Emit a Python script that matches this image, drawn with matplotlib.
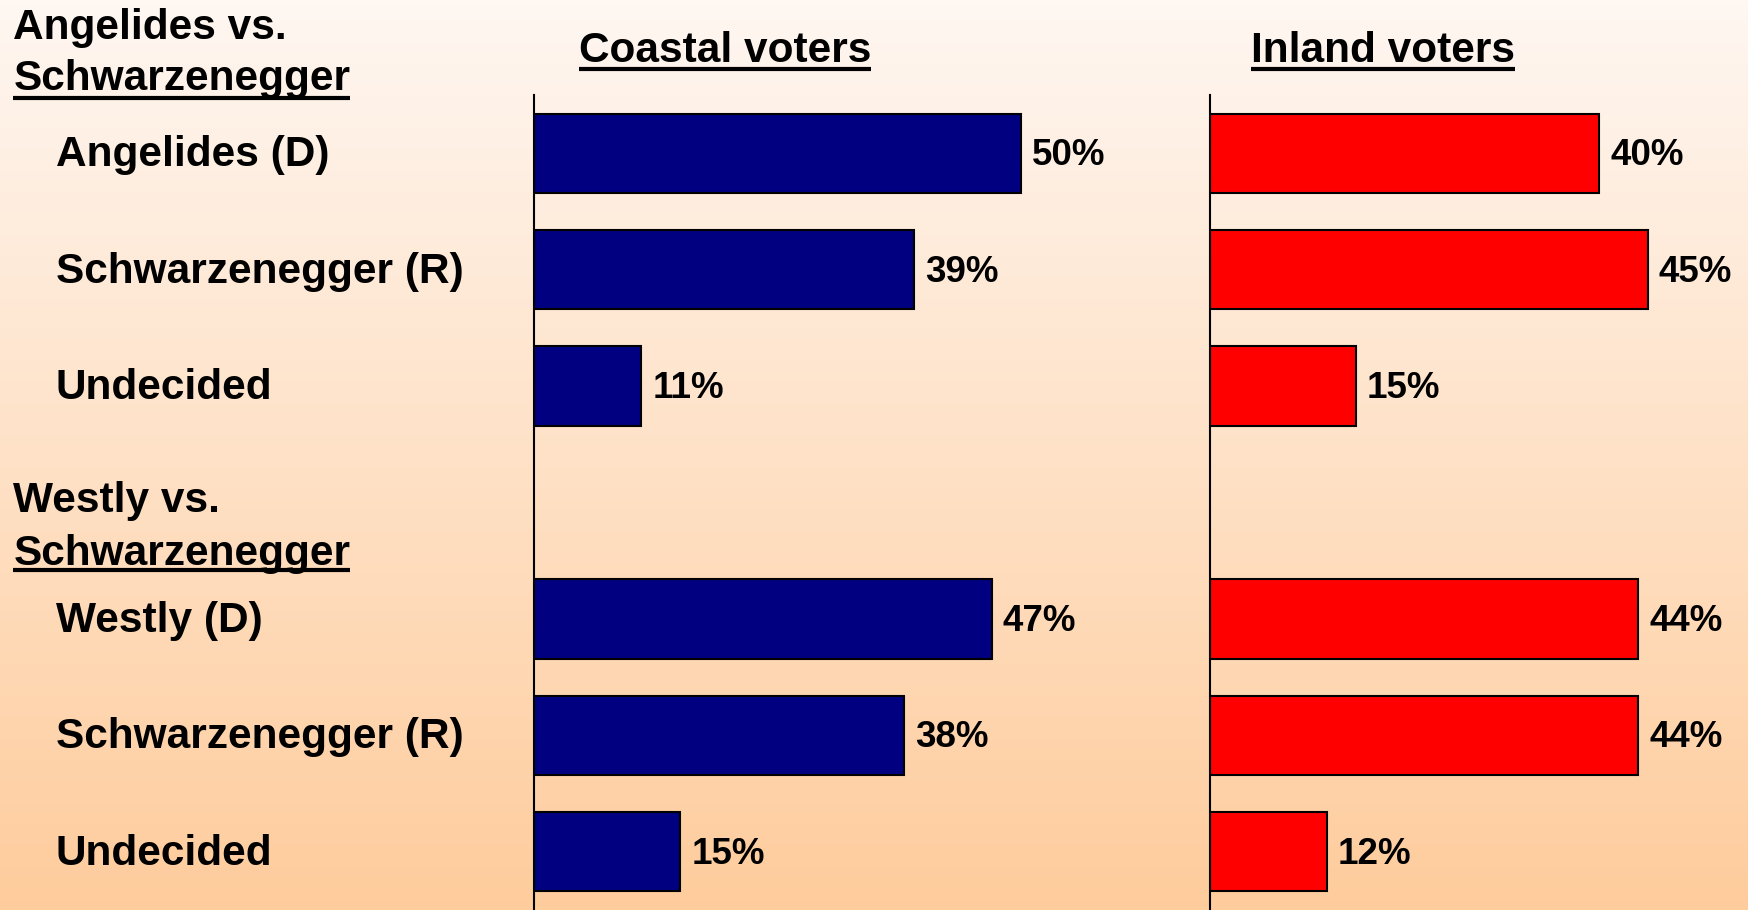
import matplotlib
matplotlib.use("Agg")
import matplotlib.pyplot as plt
import matplotlib.transforms as mtransforms
from matplotlib.lines import Line2D
import numpy as np

# ---- data ----
categories = ["Angelides (D)", "Schwarzenegger (R)", "Undecided",
              "Westly (D)", "Schwarzenegger (R)", "Undecided"]
positions = [0, 1, 2, 4, 5, 6]
coastal = [50, 39, 11, 47, 38, 15]
inland = [40, 45, 15, 44, 44, 12]
group_titles = [("Angelides vs.", "Schwarzenegger"), ("Westly vs.", "Schwarzenegger")]
panel_titles = ["Coastal voters", "Inland voters"]

FONT = ["Liberation Sans", "Arial", "DejaVu Sans"]
plt.rcParams["font.family"] = FONT
plt.rcParams["font.weight"] = "bold"

W, H = 1748, 910
fig = plt.figure(figsize=(W / 100, H / 100), dpi=100)

# gradient background
bg = fig.add_axes([0, 0, 1, 1], zorder=-10)
top = np.array([254, 247, 242]) / 255
bot = np.array([255, 204, 156]) / 255
t = np.linspace(0, 1, 256)[:, None]
grad = top[None, :] * (1 - t) + bot[None, :] * t
bg.imshow(grad[:, None, :], aspect="auto", extent=[0, 1, 0, 1])
bg.set_axis_off()

px_per_pct = 9.73
ax_top_px = 95
ax_h = (H - ax_top_px) / H

def make_panel(left_px, right_px, values, color):
    ax = fig.add_axes([left_px / W, 0, (right_px - left_px) / W, ax_h])
    ax.patch.set_alpha(0)
    ax.barh(positions, values, height=0.68, color=color, edgecolor="black", linewidth=1.5)
    ax.set_xlim(0, (right_px - left_px) / px_per_pct)
    ax.set_ylim(6.5, -0.5)
    for s in ["top", "right", "bottom"]:
        ax.spines[s].set_visible(False)
    ax.spines["left"].set_linewidth(1.5)
    ax.set_xticks([])
    ax.set_yticks([])
    off = mtransforms.ScaledTranslation(11 / 100, -2.5 / 100, fig.dpi_scale_trans)
    for p, v in zip(positions, values):
        ax.text(v, p, f"{v}%", transform=ax.transData + off, ha="left", va="center",
                fontsize=26.5, fontweight="bold")
    return ax

ax1 = make_panel(534.4, 1110, coastal, "#000080")
ax2 = make_panel(1210, W, inland, "#FF0000")

# category labels
tr = mtransforms.blended_transform_factory(fig.transFigure, ax1.transData)
base_off = mtransforms.ScaledTranslation(0, -13 / 100, fig.dpi_scale_trans)
for p, c in zip(positions, categories):
    fig.text(56 / W, p, c, transform=tr + base_off, ha="left", va="baseline",
             fontsize=30.5, fontweight="bold")

underlined = []
# group titles
for (l1, l2), (b1, b2, u) in zip(group_titles, [(39, 90, 98), (512, 564.5, 570)]):
    fig.text(13.4 / W, 1 - b1 / H, l1, ha="left", va="baseline", fontsize=30.5, fontweight="bold")
    t2 = fig.text(13.4 / W, 1 - b2 / H, l2, ha="left", va="baseline", fontsize=30.5, fontweight="bold")
    underlined.append((t2, u))

# panel titles
for title, cx in zip(panel_titles, [725, 1383]):
    tt = fig.text(cx / W, 1 - 61.7 / H, title, ha="center", va="baseline",
                  fontsize=30.5, fontweight="bold")
    underlined.append((tt, 68.7))

fig.canvas.draw()
r = fig.canvas.get_renderer()
for txt, ypx in underlined:
    bb = txt.get_window_extent(r)
    y = 1 - ypx / H
    fig.add_artist(Line2D([bb.x0 / W, bb.x1 / W], [y, y], transform=fig.transFigure,
                          color="black", linewidth=3.0, solid_capstyle="butt"))

fig.savefig("out.png", dpi=100)
